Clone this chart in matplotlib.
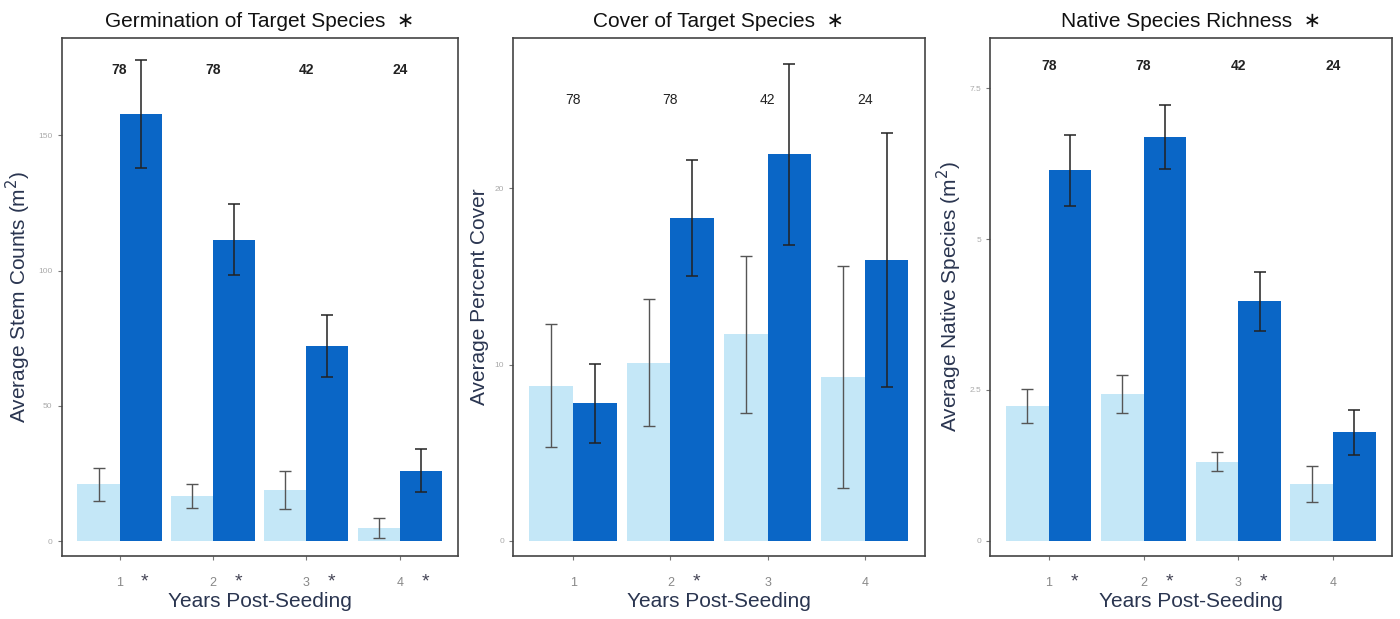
import numpy as np
import matplotlib
matplotlib.use("Agg")
import matplotlib.pyplot as plt
import matplotlib.transforms as mtransforms

plt.rcParams['font.family'] = ['Liberation Sans', 'DejaVu Sans']

# ---------------------- data ---------------------------------------------#
years = [1, 2, 3, 4]
n_plots = [78, 78, 42, 24]

germ_unseeded = [21, 16.7, 19, 5]
germ_unseeded_se = [6, 4.5, 7, 3.7]
germ_seeded = [158, 111.5, 72, 26]
germ_seeded_se = [20, 13, 11.5, 8]

cover_unseeded = [8.8, 10.1, 11.7, 9.3]
cover_unseeded_se = [3.5, 3.6, 4.45, 6.3]
cover_seeded = [7.8, 18.3, 21.9, 15.9]
cover_seeded_se = [2.25, 3.3, 5.15, 7.2]

rich_unseeded = [2.24, 2.43, 1.31, 0.94]
rich_unseeded_se = [0.28, 0.31, 0.16, 0.30]
rich_seeded = [6.14, 6.69, 3.97, 1.80]
rich_seeded_se = [0.59, 0.53, 0.49, 0.37]

germ_signif = [True, True, True, True]
cover_signif = [False, True, False, False]
rich_signif = [True, True, True, False]

LIGHT = '#c4e7f7'
DARK = '#0a66c6'

panels = [
    dict(title='Germination of Target Species', ylabel='Average Stem Counts (m$^2$)',
         a=germ_unseeded, a_se=germ_unseeded_se, b=germ_seeded, b_se=germ_seeded_se,
         sig=germ_signif, ylim=(-5.5, 186), yticks=[0, 50, 100, 150], yticklabels=['0', '50', '100', '150'],
         rect=[0.044, 0.1018, 0.283, 0.8368], ny=0.938, nbold=True),
    dict(title='Cover of Target Species', ylabel='Average Percent Cover',
         a=cover_unseeded, a_se=cover_unseeded_se, b=cover_seeded, b_se=cover_seeded_se,
         sig=cover_signif, ylim=(-0.85, 28.5), yticks=[0, 10, 20], yticklabels=['0', '10', '20'],
         rect=[0.3664, 0.1018, 0.2943, 0.8368], ny=0.88, nbold=False),
    dict(title='Native Species Richness', ylabel='Average Native Species (m$^2$)',
         a=rich_unseeded, a_se=rich_unseeded_se, b=rich_seeded, b_se=rich_seeded_se,
         sig=rich_signif, ylim=(-0.25, 8.33), yticks=[0, 2.5, 5, 7.5], yticklabels=['0', '2.5', '5', '7.5'],
         rect=[0.7071, 0.1018, 0.2871, 0.8368], ny=0.946, nbold=True),
]

fig = plt.figure(figsize=(14, 6.19), dpi=100)
x = np.array(years, dtype=float)
w = 0.45

for p in panels:
    ax = fig.add_axes(p['rect'])
    ax.bar(x - w / 2, p['a'], width=w, color=LIGHT, zorder=1)
    ax.bar(x + w / 2, p['b'], width=w, color=DARK, zorder=1)
    ax.errorbar(x - w / 2, p['a'], yerr=p['a_se'], fmt='none', ecolor='#555555',
                elinewidth=1.0, capsize=4, capthick=1.0, zorder=2)
    ax.errorbar(x + w / 2, p['b'], yerr=p['b_se'], fmt='none', ecolor='#222222',
                elinewidth=1.1, capsize=4, capthick=1.1, zorder=2)

    ax.set_xlim(0.38, 4.62)
    ax.set_ylim(*p['ylim'])
    ax.set_xticks(x)
    ax.set_xticklabels([str(y) for y in years], fontsize=9, color='#888888')
    ax.set_yticks(p['yticks'])
    ax.set_yticklabels(p['yticklabels'], fontsize=6, color='#aaaaaa')
    ax.tick_params(length=3, color='#777777')
    ax.tick_params(axis='x', pad=12)
    for s in ax.spines.values():
        s.set_color('#444444')
        s.set_linewidth(1.2)

    trans = mtransforms.blended_transform_factory(ax.transData, ax.transAxes)
    for xi, n in zip(x, n_plots):
        ax.text(xi, p['ny'], str(n), transform=trans, ha='center', va='center',
                fontsize=10, fontweight='bold' if p['nbold'] else 'normal', color='#222222')
    for xi, s in zip(x, p['sig']):
        if s:
            ax.text(xi + 0.27, -0.05, '*', transform=trans, ha='center', va='center',
                    fontsize=14, color='#444455')

    ax.set_title(p['title'] + '  \u2217', fontsize=15, color='#111111', pad=8)
    ax.set_ylabel(p['ylabel'], fontsize=15, color='#2a3550', labelpad=4)
    ax.set_xlabel('Years Post-Seeding', fontsize=15, color='#2a3550', labelpad=2)

fig.savefig('out.png', dpi=100)
